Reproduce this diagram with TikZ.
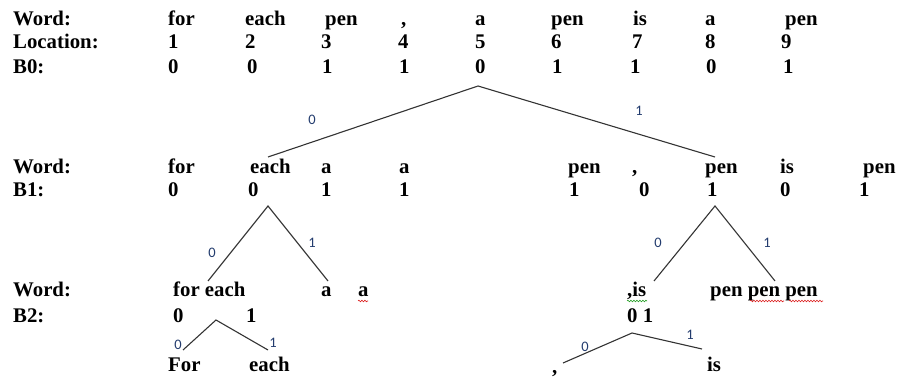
\documentclass[tikz,border=0pt]{standalone}
\usepackage{fontspec}
\setmainfont{Liberation Serif}
\newfontfamily\labelfont{Carlito}
\usetikzlibrary{decorations.pathmorphing}
\definecolor{edgelbl}{RGB}{35,60,110}
\definecolor{spellred}{RGB}{220,30,30}
\definecolor{spellgreen}{RGB}{40,160,40}
\begin{document}
\begin{tikzpicture}[x=1pt,y=-1pt,
  txt/.style={anchor=base west,inner sep=0pt,font=\fontsize{20.8}{24}\selectfont\bfseries},
  branch/.style={draw=black!80,line width=1.1pt},
  elabel/.style={inner sep=0pt,font=\labelfont\fontsize{14.5}{16}\selectfont,text=edgelbl},
  squig/.style={decorate,decoration={snake,amplitude=0.8pt,segment length=3pt},line width=0.6pt}]
\useasboundingbox (0,0) rectangle (898,377);

% ---- level 0 ----
\node[txt] (hw0) at (13,26) {Word:};
\node[txt] (hloc) at (13,49) {Location:};
\node[txt] (hb0) at (13,74) {B0:};
\node[txt] (w0a) at (168,26) {for};
\node[txt] (w0b) at (245,26) {each};
\node[txt] (w0c) at (325,26) {pen};
\node[txt] (w0d) at (401,26) {,};
\node[txt] (w0e) at (475,26) {a};
\node[txt] (w0f) at (551,26) {pen};
\node[txt] (w0g) at (633,26) {is};
\node[txt] (w0h) at (705,26) {a};
\node[txt] (w0i) at (785,26) {pen};
\foreach \x/\n [count=\k] in {168/1,245/2,321/3,398/4,475/5,551/6,632/7,705/8,781/9}
  \node[txt] (loc\k) at (\x,49) {\n};
\foreach \x/\n [count=\k] in {168/0,247/0,322/1,399/1,475/0,552/1,630/1,706/0,783/1}
  \node[txt] (b0\k) at (\x,74) {\n};

% ---- split on B0 ----
\coordinate (r0) at (478,86);
\coordinate (r0l) at (268,157);
\coordinate (r0r) at (715,157);
\draw[branch] (r0l) -- (r0) -- (r0r);
\node[elabel] (e0l) at (312,120) {0};
\node[elabel] (e0r) at (639,111) {1};

% ---- level 1 ----
\node[txt] (hw1) at (13,174) {Word:};
\node[txt] (hb1) at (13,197) {B1:};
\node[txt] (w1a) at (168,174) {for};
\node[txt] (w1b) at (250,174) {each};
\node[txt] (w1c) at (321,174) {a};
\node[txt] (w1d) at (399,174) {a};
\node[txt] (w1e) at (568,174) {pen};
\node[txt] (w1f) at (632,174) {,};
\node[txt] (w1g) at (705,174) {pen};
\node[txt] (w1h) at (780,174) {is};
\node[txt] (w1i) at (863,174) {pen};
\foreach \x/\n [count=\k] in {168/0,248/0,321/1,399/1,569/1,639/0,707/1,780/0,859/1}
  \node[txt] (b1\k) at (\x,197) {\n};

% ---- splits on B1 ----
\coordinate (r1) at (268,206);
\coordinate (r1l) at (208,281);
\coordinate (r1r) at (328,281);
\draw[branch] (r1l) -- (r1) -- (r1r);
\node[elabel] (e1l) at (212,253) {0};
\node[elabel] (e1r) at (312,243) {1};
\coordinate (r2) at (715,206);
\coordinate (r2l) at (654,281);
\coordinate (r2r) at (775,281);
\draw[branch] (r2l) -- (r2) -- (r2r);
\node[elabel] (e2l) at (658,243) {0};
\node[elabel] (e2r) at (767,243) {1};

% ---- level 2 ----
\node[txt] (hw2) at (13,297) {Word:};
\node[txt] (hb2) at (13,322) {B2:};
\node[txt] (w2a) at (173,297) {for each};
\node[txt] (w2b) at (321,297) {a};
\node[txt] (w2c) at (358,297) {a};
\node[txt] (w2d) at (627,297) {,is};
\node[txt] (w2e) at (710,297) {pen pen pen};
\node[txt] (b2a) at (173,322) {0};
\node[txt] (b2b) at (246,322) {1};
\node[txt] (b2c) at (627,322) {0 1};

% spell-check underlines
\draw[squig,spellred] (358,301) -- (368,301);
\draw[squig,spellgreen] (627,301) -- (647,301);
\draw[squig,spellred] (750,301) -- (784,301);
\draw[squig,spellred] (789,301) -- (823,301);

% ---- splits on B2 ----
\coordinate (r3) at (216,320);
\coordinate (r3l) at (183,350);
\coordinate (r3r) at (268,350);
\draw[branch] (r3l) -- (r3) -- (r3r);
\node[elabel] (e3l) at (178,345) {0};
\node[elabel] (e3r) at (273,343) {1};
\coordinate (r4) at (632,333);
\coordinate (r4l) at (563,363);
\coordinate (r4r) at (702,349);
\draw[branch] (r4l) -- (r4) -- (r4r);
\node[elabel] (e4l) at (585,347) {0};
\node[elabel] (e4r) at (690,335) {1};

% ---- leaves ----
\node[txt] (l1) at (168,371) {For};
\node[txt] (l2) at (249,371) {each};
\node[txt] (l3) at (552,373) {,};
\node[txt] (l4) at (707,371) {is};
\end{tikzpicture}
\end{document}
